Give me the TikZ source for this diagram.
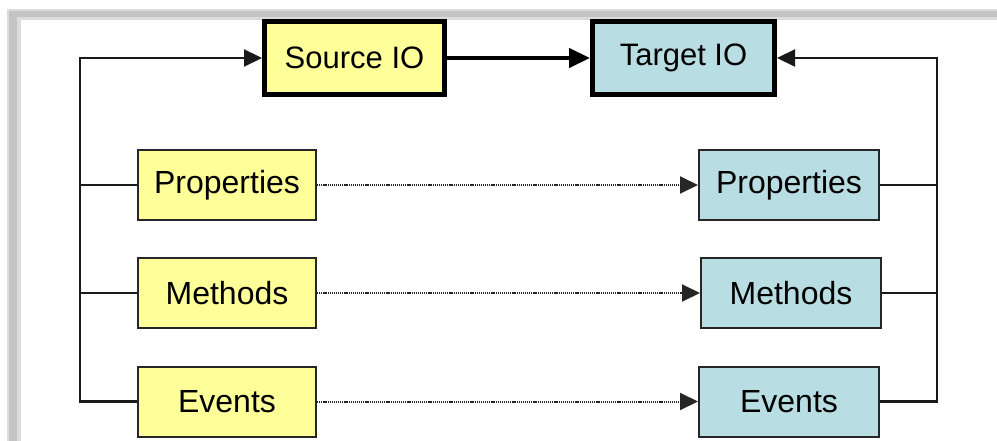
\documentclass[tikz,border=0pt]{standalone}
\usepackage{fontspec}
\setmainfont{Liberation Sans}
\usetikzlibrary{arrows.meta}
\definecolor{srcfill}{RGB}{255,255,153}
\definecolor{tgtfill}{RGB}{184,222,228}
\definecolor{framegray}{RGB}{196,196,196}
\tikzset{
  bigbox/.style={draw=black, line width=5pt, inner sep=0pt, minimum height=73pt, font=\fontsize{31}{35}\selectfont},
  smallbox/.style={draw=black!85, line width=2pt, inner sep=0pt, minimum height=70pt, font=\fontsize{32}{36}\selectfont},
  conn/.style={line width=2.2pt, draw=black!90},
  tip/.style={-{Triangle[length=18pt,width=17pt]}},
  dotline/.style={line width=2pt, draw=black!85, dash pattern=on 1.2pt off 0.9pt, -{Triangle[length=18pt,width=17pt]}}
}
\begin{document}
\begin{tikzpicture}[x=1pt,y=-1pt]
\useasboundingbox (0,0) rectangle (997,441);
% frame shading
\fill[framegray!60] (7,9) rectangle (997,20);
\fill[framegray!60] (7,9) rectangle (21,441);
\fill[framegray] (9,11) rectangle (997,17);
\fill[framegray] (9,11) rectangle (17,441);
% nodes
\node[bigbox, fill=srcfill, minimum width=180pt] (src) at (354.5,58) {Source IO};
\node[bigbox, fill=tgtfill, minimum width=182pt] (tgt) at (683.5,58) {Target IO};
\node[smallbox, fill=srcfill, minimum width=178pt] (lp) at (227,185) {Properties};
\node[smallbox, fill=srcfill, minimum width=178pt] (lm) at (227,293) {Methods};
\node[smallbox, fill=srcfill, minimum width=178pt] (le) at (227,401.5) {Events};
\node[smallbox, fill=tgtfill, minimum width=180pt] (rp) at (789,185) {Properties};
\node[smallbox, fill=tgtfill, minimum width=180pt] (rm) at (791,293) {Methods};
\node[smallbox, fill=tgtfill, minimum width=180pt] (re) at (789,401.5) {Events};
\coordinate (LT) at (80,58);
\coordinate (RT) at (937,58);
% left bus
\draw[conn, tip] (le.west) -| (LT) -- (src.west);
\draw[conn] (lp.west) -- (lp.west -| LT);
\draw[conn] (lm.west) -- (lm.west -| LT);
% right bus
\draw[conn, tip] (re.east) -| (RT) -- (tgt.east);
\draw[conn] (rp.east) -- (rp.east -| RT);
\draw[conn] (rm.east) -- (rm.east -| RT);
% main arrow
\draw[line width=4.5pt, -{Triangle[length=21pt,width=19pt]}] (src.east) -- (tgt.west);
% dotted
\draw[dotline] (lp.east) -- (rp.west);
\draw[dotline] (lm.east) -- (rm.west);
\draw[dotline] (le.east) -- (re.west);
\end{tikzpicture}
\end{document}
